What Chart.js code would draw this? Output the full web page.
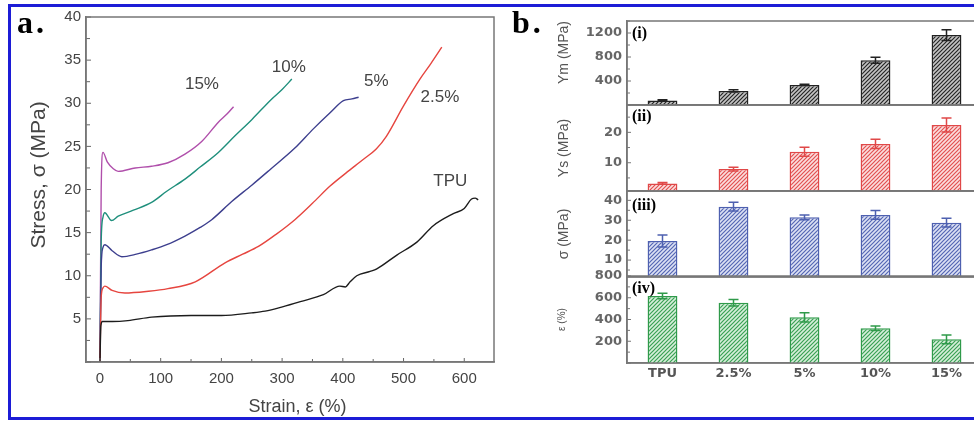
<!DOCTYPE html>
<html>
<head>
<meta charset="utf-8">
<script src="https://cdn.jsdelivr.net/npm/chart.js@4.4.1/dist/chart.umd.min.js"></script>
<style>
  html, body { margin: 0; padding: 0; background: #fff; }
  #figure { position: relative; width: 974px; height: 422px; overflow: hidden; background: #fff; }
  #figure canvas { position: absolute; top: 0; }
  .frame { position: absolute; left: 8px; top: 4px; width: 1000px; height: 416px; box-sizing: border-box; border: 3px solid #1c1cd6; }
  .panel-tag { position: absolute; font: bold 32px "Liberation Serif", serif; line-height: 32px; letter-spacing: 3px; color: #000; }
  .sub-tag { position: absolute; left: 632px; font: bold 16px "Liberation Serif", serif; line-height: 16px; color: #000; }
</style>
</head>
<body>
<div id="figure">
  <canvas id="stressStrain" width="500" height="422" style="left:0"></canvas>
  <canvas id="ymChart" width="490" height="422" style="left:500px"></canvas>
  <canvas id="ysChart" width="490" height="422" style="left:500px"></canvas>
  <canvas id="sigmaChart" width="490" height="422" style="left:500px"></canvas>
  <canvas id="epsChart" width="490" height="422" style="left:500px"></canvas>
  <div class="frame"></div>
  <div class="panel-tag" style="left:17px;top:6px">a.</div>
  <div class="panel-tag" style="left:512px;top:6px">b.</div>
  <div class="sub-tag" style="top:25px">(i)</div>
  <div class="sub-tag" style="top:108px">(ii)</div>
  <div class="sub-tag" style="top:197px">(iii)</div>
  <div class="sub-tag" style="top:280px">(iv)</div>
</div>
<script>
// Panel a: stress-strain curves
const tpuStrain = [0, 1.5, 4, 20, 46, 85, 150, 200, 250, 272, 296, 330, 368, 395, 404, 412, 423, 445, 456, 489, 522, 549, 582, 600, 612, 618, 623];
const tpuStress = [0, 4.2, 4.7, 4.7, 4.8, 5.2, 5.4, 5.4, 5.7, 5.9, 6.3, 7.0, 7.8, 8.8, 8.7, 9.3, 10.0, 10.5, 10.8, 12.4, 13.9, 15.8, 17.2, 17.8, 18.9, 19.0, 18.8];

const f25Strain = [0, 2, 5, 8, 20, 41, 80, 112, 157, 206, 235, 261, 290, 321, 350, 379, 405, 434, 455, 472, 500, 527, 545, 563];
const f25Stress = [0, 7.5, 8.6, 8.8, 8.3, 8.0, 8.2, 8.5, 9.3, 11.5, 12.5, 13.4, 14.8, 16.5, 18.4, 20.4, 21.9, 23.5, 24.7, 26.2, 29.7, 32.8, 34.6, 36.5];

const f5Strain = [0, 2, 5, 8, 20, 36, 60, 85, 110, 140, 165, 184, 217, 250, 280, 321, 351, 379, 401, 415, 426];
const f5Stress = [0, 11, 13.3, 13.6, 12.9, 12.2, 12.5, 13.0, 13.6, 14.6, 15.6, 16.5, 18.6, 20.5, 22.3, 24.8, 27.0, 28.9, 30.3, 30.5, 30.7];

const f10Strain = [0, 2, 5, 8, 19, 30, 55, 85, 110, 140, 165, 195, 222, 250, 283, 300, 316];
const f10Stress = [0, 14, 16.8, 17.3, 16.4, 16.9, 17.6, 18.5, 19.8, 21.2, 22.6, 24.3, 26.2, 28.1, 30.5, 31.6, 32.8];

const f15Strain = [0, 2, 5, 12, 22, 30, 58, 85, 112, 140, 168, 195, 210, 220];
const f15Stress = [0, 20, 24.3, 23.2, 22.4, 22.1, 22.5, 22.7, 23.1, 24.1, 25.6, 27.8, 28.8, 29.6];

const strainTicks = [0, 100, 200, 300, 400, 500, 600];
const stressTicks = [5, 10, 15, 20, 25, 30, 35, 40];

// curve names and where they are written (strain, stress)
const curveNames = ['TPU', '2.5%', '5%', '10%', '15%'];
const labelStrain = [577, 560, 455, 311, 168];
const labelStress = [20.9, 30.7, 32.6, 34.2, 32.2];

// Panel b: bar values with error bars
const fillers = ['TPU', '2.5%', '5%', '10%', '15%'];
const modulus = [75, 235, 335, 745, 1165];
const modulusErr = [12, 20, 10, 50, 90];
const yieldStress = [3.2, 7.9, 13.6, 16.2, 22.4];
const yieldErr = [0.3, 0.6, 1.5, 1.5, 2.3];
const strength = [19.6, 36.8, 31.5, 32.7, 28.8];
const strengthErr = [3, 2.2, 1.2, 2.2, 2.2];
const elongation = [616, 554, 420, 319, 218];
const elongationErr = [25, 31, 42, 21, 40];

const modulusTicks = [400, 800, 1200];
const yieldTicks = [10, 20];
const strengthTicks = [10, 20, 30, 40];
const elongationTicks = [200, 400, 600, 800];

const SANS = '"Liberation Sans", Arial, sans-serif';
const BOLD_SANS = '"DejaVu Sans", sans-serif';
const AXIS = '#777';

// short tick marks pointing into the plot, plus a box round the plot area
const innerTicks = {
    id: 'innerTicks',
    afterDraw(chart, args, opts) {
        const ctx = chart.ctx;
        const area = chart.chartArea;
        ctx.save();
        ctx.strokeStyle = opts.color;
        ctx.lineWidth = 1;
        opts.axes.forEach(a => {
            const scale = chart.scales[a.id];
            const first = Math.ceil(scale.min / a.minor) * a.minor;
            for (let v = first; v <= scale.max + 1e-9; v += a.minor) {
                const major = Math.abs(v / a.major - Math.round(v / a.major)) < 1e-6;
                const len = major ? a.majorLen : a.minorLen;
                const p = scale.getPixelForValue(v);
                ctx.beginPath();
                if (scale.isHorizontal()) {
                    ctx.moveTo(p, area.bottom);
                    ctx.lineTo(p, area.bottom - len);
                } else {
                    ctx.moveTo(area.left, p);
                    ctx.lineTo(area.left + len, p);
                }
                ctx.stroke();
            }
        });
        if (opts.box) {
            ctx.strokeStyle = opts.box;
            ctx.lineWidth = 1.5;
            ctx.strokeRect(area.left, area.top, area.right - area.left, area.bottom - area.top);
        }
        ctx.restore();
    }
};

const curveLabels = {
    id: 'curveLabels',
    afterDatasetsDraw(chart) {
        const { ctx, scales: { x, y } } = chart;
        ctx.save();
        ctx.font = '17px ' + SANS;
        ctx.fillStyle = '#444';
        ctx.textAlign = 'center';
        ctx.textBaseline = 'middle';
        curveNames.forEach((name, i) => {
            ctx.fillText(name, x.getPixelForValue(labelStrain[i]), y.getPixelForValue(labelStress[i]));
        });
        ctx.restore();
    }
};

const errorBars = {
    id: 'errorBars',
    afterDatasetsDraw(chart) {
        const ds = chart.data.datasets[0];
        const meta = chart.getDatasetMeta(0);
        const y = chart.scales.y;
        const ctx = chart.ctx;
        ctx.save();
        ctx.strokeStyle = ds.borderColor;
        ctx.lineWidth = 1.5;
        meta.data.forEach((bar, i) => {
            const top = y.getPixelForValue(ds.data[i] + ds.errors[i]);
            const bot = y.getPixelForValue(ds.data[i] - ds.errors[i]);
            ctx.beginPath();
            ctx.moveTo(bar.x, top); ctx.lineTo(bar.x, bot);
            ctx.moveTo(bar.x - 5, top); ctx.lineTo(bar.x + 5, top);
            ctx.moveTo(bar.x - 5, bot); ctx.lineTo(bar.x + 5, bot);
            ctx.stroke();
        });
        ctx.restore();
    }
};

function hatch(bg, line) {
    const s = 4;
    const c = document.createElement('canvas');
    c.width = c.height = s;
    const g = c.getContext('2d');
    g.fillStyle = bg;
    g.fillRect(0, 0, s, s);
    g.strokeStyle = line;
    g.lineWidth = 1.2;
    g.beginPath();
    g.moveTo(0, s); g.lineTo(s, 0);
    g.moveTo(-1, 1); g.lineTo(1, -1);
    g.moveTo(s - 1, s + 1); g.lineTo(s + 1, s - 1);
    g.stroke();
    return g.createPattern(c, 'repeat');
}

const toPoints = (xs, ys) => xs.map((v, i) => ({ x: v, y: ys[i] }));

const curves = [
    { label: 'TPU', strain: tpuStrain, stress: tpuStress, color: '#1c1c1c' },
    { label: '2.5%', strain: f25Strain, stress: f25Stress, color: '#e6453f' },
    { label: '5%', strain: f5Strain, stress: f5Stress, color: '#3d3f8e' },
    { label: '10%', strain: f10Strain, stress: f10Stress, color: '#1f8f7c' },
    { label: '15%', strain: f15Strain, stress: f15Stress, color: '#b04fab' }
];

new Chart(document.getElementById('stressStrain'), {
    type: 'line',
    data: {
        datasets: curves.map(c => ({
            label: c.label,
            data: toPoints(c.strain, c.stress),
            borderColor: c.color,
            borderWidth: 1.4,
            pointRadius: 0,
            fill: false,
            cubicInterpolationMode: 'monotone'
        }))
    },
    options: {
        responsive: false,
        animation: false,
        devicePixelRatio: 1,
        layout: { padding: { left: 27, right: 6, top: 17, bottom: 4 } },
        plugins: {
            legend: { display: false },
            tooltip: { enabled: false },
            innerTicks: {
                color: '#666',
                box: AXIS,
                axes: [
                    { id: 'x', major: 100, minor: 50, majorLen: 4, minorLen: 3 },
                    { id: 'y', major: 5, minor: 2.5, majorLen: 5, minorLen: 4 }
                ]
            }
        },
        scales: {
            x: {
                type: 'linear',
                min: -23,
                max: 649,
                afterBuildTicks: s => { s.ticks = strainTicks.map(v => ({ value: v })); },
                afterFit: s => { s.height = 56; },
                grid: { display: false, drawTicks: false },
                border: { color: AXIS, width: 1.5 },
                ticks: { padding: 8, color: '#444', font: { family: SANS, size: 15 } },
                title: { display: true, text: '   Strain, ε (%)', color: '#444', padding: 0, font: { family: SANS, size: 18 } }
            },
            y: {
                min: 0,
                max: 40,
                afterBuildTicks: s => { s.ticks = stressTicks.map(v => ({ value: v })); },
                afterFit: s => { s.width = 59; },
                grid: { display: false, drawTicks: false },
                border: { color: AXIS, width: 1.5 },
                ticks: { padding: 5, color: '#444', font: { family: SANS, size: 15 } },
                title: { display: true, text: '     Stress, σ (MPa)', color: '#444', padding: 0, font: { family: SANS, size: 21 } }
            }
        }
    },
    plugins: [innerTicks, curveLabels]
});

const barPanels = [
    { id: 'ymChart', values: modulus, errors: modulusErr, ticks: modulusTicks, min: 0, max: 1400, major: 400, minor: 200,
      title: 'Ym (MPa)', titleSize: 14, titleAlign: 'end', top: 21, bottom: 105, bg: '#c4c4c4', line: '#262626', edge: '#222' },
    { id: 'ysChart', values: yieldStress, errors: yieldErr, ticks: yieldTicks, min: 0.7, max: 29, major: 10, minor: 5,
      title: 'Ys (MPa)', titleSize: 14, titleAlign: 'center', top: 105, bottom: 191, bg: '#fbdede', line: '#e25050', edge: '#e04848' },
    { id: 'sigmaChart', values: strength, errors: strengthErr, ticks: strengthTicks, min: 1.5, max: 44.7, major: 10, minor: 5,
      title: 'σ (MPa)', titleSize: 14, titleAlign: 'center', top: 191, bottom: 277, bg: '#dce1f4', line: '#5466b4', edge: '#4e60b0' },
    { id: 'epsChart', values: elongation, errors: elongationErr, ticks: elongationTicks, min: 0, max: 800, major: 200, minor: 100,
      title: 'ε (%)', titleSize: 10, titleAlign: 'center', top: 276, bottom: 363, bg: '#d6efda', line: '#39a054', edge: '#2f9a4a', last: true }
];

barPanels.forEach(p => {
    new Chart(document.getElementById(p.id), {
        type: 'bar',
        data: {
            labels: fillers,
            datasets: [{
                data: p.values,
                errors: p.errors,
                base: p.min,
                backgroundColor: hatch(p.bg, p.line),
                borderColor: p.edge,
                borderWidth: 1.5,
                barPercentage: 0.42,
                categoryPercentage: 1
            }]
        },
        options: {
            responsive: false,
            animation: false,
            devicePixelRatio: 1,
            layout: { padding: { left: 56, right: 8, top: p.top, bottom: p.last ? 0 : 422 - p.bottom } },
            plugins: {
                legend: { display: false },
                tooltip: { enabled: false },
                innerTicks: {
                    color: '#777',
                    box: AXIS,
                    axes: [{ id: 'y', major: p.major, minor: p.minor, majorLen: 4, minorLen: 3 }]
                }
            },
            scales: {
                x: {
                    afterFit: s => { s.height = p.last ? 422 - p.bottom : 0; },
                    grid: { display: false, drawTicks: false },
                    border: { color: AXIS, width: 1.5 },
                    ticks: { display: !!p.last, padding: 3, color: '#555', font: { family: BOLD_SANS, size: 13, weight: 'bold' } }
                },
                y: {
                    min: p.min,
                    max: p.max,
                    afterBuildTicks: s => { s.ticks = p.ticks.map(v => ({ value: v })); },
                    afterFit: s => { s.width = 71; },
                    grid: { display: false, drawTicks: false },
                    border: { color: AXIS, width: 1.5 },
                    ticks: { padding: 5, color: '#666', font: { family: BOLD_SANS, size: 13, weight: 'bold' }, callback: v => String(v) },
                    title: { display: true, text: p.title, align: p.titleAlign, color: '#555', padding: 0, font: { family: SANS, size: p.titleSize } }
                }
            }
        },
        plugins: [innerTicks, errorBars]
    });
});
</script>
</body>
</html>
